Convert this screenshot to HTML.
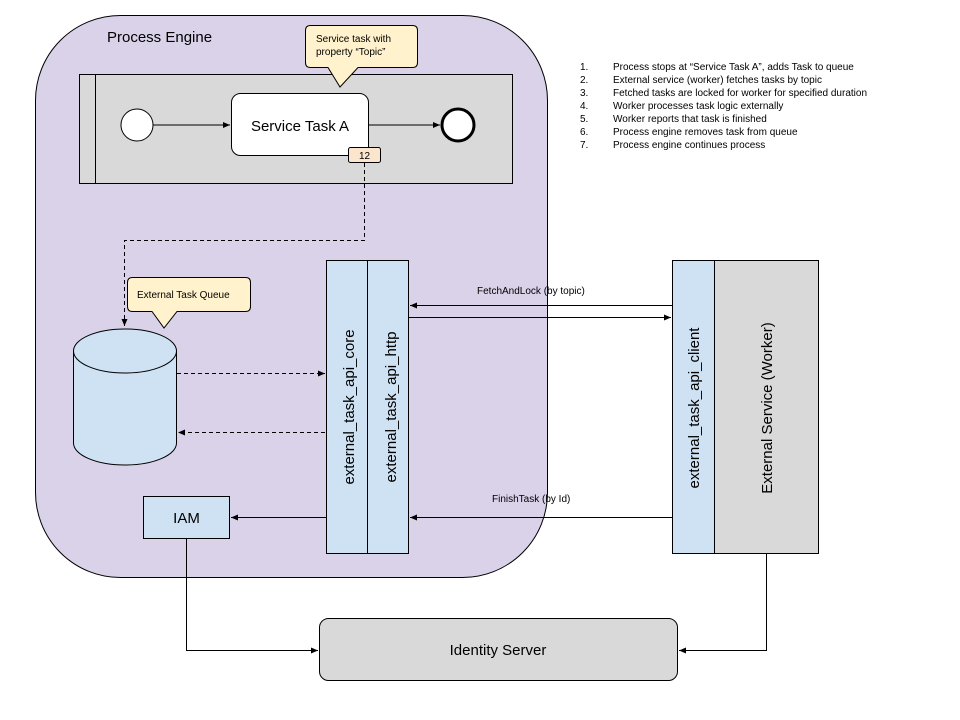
<!DOCTYPE html>
<html><head><meta charset="utf-8"><style>
html,body{margin:0;padding:0;background:#fff;}
svg{display:block;font-family:"Liberation Sans",Arial,sans-serif;}
</style></head><body>
<svg width="960" height="720" viewBox="0 0 960 720" xmlns="http://www.w3.org/2000/svg">
<defs>
<marker id="a" markerWidth="8" markerHeight="6" refX="7" refY="3" orient="auto" markerUnits="userSpaceOnUse"><path d="M0,0 L7,3 L0,6 z" fill="#000"/></marker>
</defs>
<rect x="35.5" y="15.5" width="512" height="562" rx="85" fill="#d9d2e9" stroke="#000" stroke-width="1"/>
<text x="107" y="42" font-size="15" fill="#000">Process Engine</text>
<!-- pool -->
<rect x="79.5" y="74.5" width="433" height="109" fill="#d9d9d9" stroke="#000"/>
<line x1="95.5" y1="74.5" x2="95.5" y2="183.5" stroke="#000"/>
<circle cx="137" cy="125" r="16" fill="#fff" stroke="#000"/>
<line x1="153" y1="125" x2="230" y2="125" stroke="#000" marker-end="url(#a)"/>
<rect x="231.5" y="93.5" width="137" height="62" rx="9" fill="#fff" stroke="#000"/>
<text x="300" y="131" font-size="15" text-anchor="middle">Service Task A</text>
<line x1="369" y1="125" x2="440" y2="125" stroke="#000" marker-end="url(#a)"/>
<circle cx="458" cy="125" r="16" fill="#fff" stroke="#000" stroke-width="3"/>
<rect x="348.5" y="147.5" width="32" height="15" rx="2" fill="#fce5cd" stroke="#000"/>
<text x="364.5" y="159" font-size="10" text-anchor="middle">12</text>
<!-- callout -->
<path d="M310.5,25.5 H412.5 Q417.5,25.5 417.5,30.5 V62.5 Q417.5,67.5 412.5,67.5 H358 L340,87 L328,67.5 H310.5 Q305.5,67.5 305.5,62.5 V30.5 Q305.5,25.5 310.5,25.5 Z" fill="#fff2cc" stroke="#000"/>
<text x="316" y="42" font-size="10">Service task with</text>
<text x="316" y="55" font-size="10">property “Topic”</text>
<!-- dashed -->
<path d="M364.5,163 V240.5 H124.5 V326" fill="none" stroke="#000" stroke-dasharray="4,3" marker-end="url(#a)"/>
<!-- queue callout -->
<path d="M132.5,277.5 H245.5 Q250.5,277.5 250.5,282.5 V306.5 Q250.5,311.5 245.5,311.5 H177 L164,328 L152,311.5 H132.5 Q127.5,311.5 127.5,306.5 V282.5 Q127.5,277.5 132.5,277.5 Z" fill="#fff2cc" stroke="#000"/>
<text x="137" y="298" font-size="10">External Task Queue</text>
<!-- cylinder -->
<path d="M73.5,351 V443 A51.5,22 0 0 0 176.5,443 V351" fill="#cfe2f3" stroke="#000"/>
<ellipse cx="125" cy="351" rx="51.5" ry="22" fill="#cfe2f3" stroke="#000"/>
<line x1="177" y1="373.5" x2="325" y2="373.5" stroke="#000" stroke-dasharray="4,3" marker-end="url(#a)"/>
<line x1="325" y1="432.5" x2="178" y2="432.5" stroke="#000" stroke-dasharray="4,3" marker-end="url(#a)"/>
<!-- api core/http -->
<rect x="326.5" y="260.5" width="41" height="293" fill="#cfe2f3" stroke="#000"/>
<rect x="367.5" y="260.5" width="41" height="293" fill="#cfe2f3" stroke="#000"/>
<text transform="translate(354,407) rotate(-90)" font-size="15" text-anchor="middle">external_task_api_core</text>
<text transform="translate(396,407) rotate(-90)" font-size="15" text-anchor="middle">external_task_api_http</text>
<!-- IAM -->
<rect x="143.5" y="496.5" width="86" height="42" fill="#cfe2f3" stroke="#000"/>
<text x="186.5" y="523" font-size="15" text-anchor="middle">IAM</text>
<line x1="326" y1="517.5" x2="231" y2="517.5" stroke="#000" marker-end="url(#a)"/>
<!-- worker -->
<rect x="672.5" y="260.5" width="42" height="293" fill="#cfe2f3" stroke="#000"/>
<rect x="714.5" y="260.5" width="104" height="293" fill="#d9d9d9" stroke="#000"/>
<text transform="translate(699,408) rotate(-90)" font-size="15" text-anchor="middle">external_task_api_client</text>
<text transform="translate(772,408) rotate(-90)" font-size="15" text-anchor="middle">External Service (Worker)</text>
<!-- arrows -->
<line x1="672" y1="305.5" x2="410" y2="305.5" stroke="#000" marker-end="url(#a)"/>
<line x1="409" y1="317.5" x2="671" y2="317.5" stroke="#000" marker-end="url(#a)"/>
<text x="477" y="294" font-size="10">FetchAndLock (by topic)</text>
<line x1="672" y1="517.5" x2="410" y2="517.5" stroke="#000" marker-end="url(#a)"/>
<text x="492" y="502" font-size="10">FinishTask (by Id)</text>
<!-- identity -->
<rect x="319.5" y="618.5" width="358" height="62" rx="9" fill="#d9d9d9" stroke="#000"/>
<text x="498" y="655" font-size="15" text-anchor="middle">Identity Server</text>
<path d="M186.5,538 V650.5 H318" fill="none" stroke="#000" marker-end="url(#a)"/>
<path d="M766.5,553 V650.5 H679" fill="none" stroke="#000" marker-end="url(#a)"/>
<!-- list -->
<g font-size="10" fill="#000">
<text x="580" y="70">1.</text><text x="613" y="70">Process stops at “Service Task A”, adds Task to queue</text>
<text x="580" y="83">2.</text><text x="613" y="83">External service (worker) fetches tasks by topic</text>
<text x="580" y="96">3.</text><text x="613" y="96">Fetched tasks are locked for worker for specified duration</text>
<text x="580" y="109">4.</text><text x="613" y="109">Worker processes task logic externally</text>
<text x="580" y="122">5.</text><text x="613" y="122">Worker reports that task is finished</text>
<text x="580" y="135">6.</text><text x="613" y="135">Process engine removes task from queue</text>
<text x="580" y="148">7.</text><text x="613" y="148">Process engine continues process</text>
</g>
</svg>
</body></html>
